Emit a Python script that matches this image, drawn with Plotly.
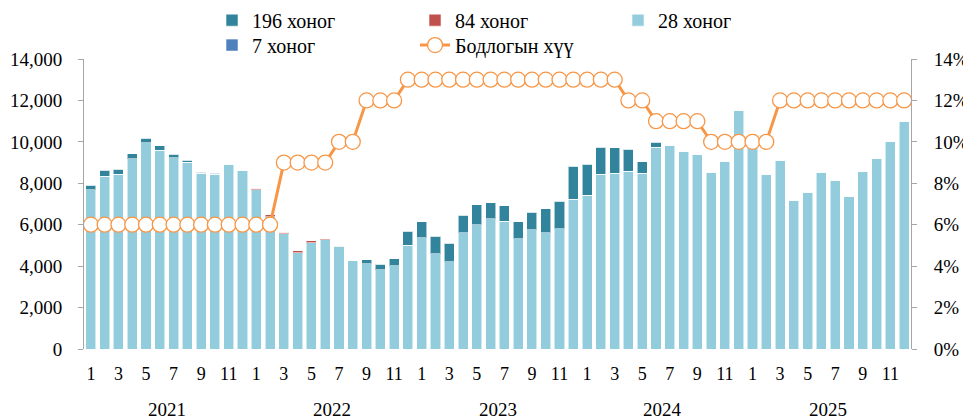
import plotly.graph_objects as go

# ---- data ----
years = ["2021", "2022", "2023", "2024", "2025"]
months = list(range(1, 13))

r28 = [7677, 8351, 8448, 9186, 9957, 9604, 9234, 9026, 8496, 8432, 8930, 8624,
       7677, 6375, 5556, 4655, 5137, 5267, 4930, 4272, 4109, 3820, 4013, 5009,
       5378, 4608, 4206, 5604, 6005, 6278, 6165, 5314, 5748, 5604, 5796, 7225,
       7434, 8429, 8478, 8590, 8478, 9746, 9826, 9553, 9377, 8542, 9072, 11529,
       9900, 8430, 9120, 7177, 7563, 8526, 8141, 7386, 8590, 9184, 10019, 11000]
r84 = [0, 0, 0, 0, 0, 0, 0, 0, 0, 0, 0, 0,
       80, 100, 80, 80, 80, 50, 20, 0, 0, 0, 0, 0,
       0, 0, 0, 0, 0, 0, 0, 0, 0, 0, 0, 0,
       0, 0, 0, 0, 0, 0, 0, 0, 0, 0, 0, 0,
       0, 0, 0, 0, 0, 0, 0, 0, 0, 0, 0, 0]
r196 = [225, 290, 225, 240, 225, 210, 177, 96, 48, 64, 0, 0,
        0, 0, 0, 0, 0, 0, 0, 0, 190, 270, 340, 674,
        755, 835, 900, 851, 964, 787, 755, 819, 851, 1155, 1349, 1590,
        1477, 1317, 1236, 1043, 555, 225, 0, 0, 0, 0, 0, 0,
        0, 0, 0, 0, 0, 0, 0, 0, 0, 0, 0, 0]
r7 = [0] * 60
policy = [6, 6, 6, 6, 6, 6, 6, 6, 6, 6, 6, 6,
          6, 6, 9, 9, 9, 9, 10, 10, 12, 12, 12, 13,
          13, 13, 13, 13, 13, 13, 13, 13, 13, 13, 13, 13,
          13, 13, 13, 12, 12, 11, 11, 11, 11, 10, 10, 10,
          10, 10, 12, 12, 12, 12, 12, 12, 12, 12, 12, 12]

x = list(range(len(r28)))
tickvals = [i for i in x if i % 2 == 0]
ticktext = [str(months[i % 12]) for i in tickvals]

FONT = "Liberation Serif"
C28, C84, C196, C7, CL = "#93CDDD", "#C0504D", "#31849B", "#4F81BD", "#F79646"

fig = go.Figure()
bar_line = dict(color="rgba(255,255,255,0.55)", width=1)
fig.add_trace(go.Bar(x=x, y=r28, name="28 хоног", marker=dict(color=C28, line=bar_line),
                     legend="legend", legendrank=3))
fig.add_trace(go.Bar(x=x, y=r84, name="84 хоног", marker=dict(color=C84, line=bar_line),
                     legend="legend", legendrank=2))
fig.add_trace(go.Bar(x=x, y=r196, name="196 хоног", marker=dict(color=C196, line=bar_line),
                     legend="legend", legendrank=1))
fig.add_trace(go.Bar(x=x, y=r7, name="7 хоног", marker=dict(color=C7, line=bar_line),
                     legend="legend2", legendrank=1))
fig.add_trace(go.Scatter(x=x, y=policy, name="Бодлогын хүү", yaxis="y2", mode="lines+markers",
                         line=dict(color=CL, width=3),
                         marker=dict(size=15, color="white", line=dict(color=CL, width=1.3)),
                         legend="legend2", legendrank=2))

annotations = []
for k, yr in enumerate(years):
    annotations.append(dict(x=12 * k + 5.5, y=-0.253, xref="x", yref="paper", text=yr,
                            showarrow=False, font=dict(family=FONT, size=19, color="black")))

legend_common = dict(orientation="h", xref="paper", yref="paper", xanchor="left",
                     yanchor="middle", traceorder="normal", entrywidth=158, entrywidthmode="pixels",
                     font=dict(family=FONT, size=20, color="black"), bgcolor="rgba(0,0,0,0)",
                     itemwidth=30)

fig.update_layout(
    width=963, height=412,
    margin=dict(l=76, r=60, t=51, b=70.5, autoexpand=False),
    paper_bgcolor="white", plot_bgcolor="white",
    barmode="stack", bargap=0.27,
    font=dict(family=FONT, size=18, color="black"),
    legend=dict(x=0.1548, y=1.134, **legend_common),
    legend2=dict(x=0.1548, y=1.048, **legend_common),
    xaxis=dict(tickmode="array", tickvals=tickvals, ticktext=ticktext,
               range=[-0.5, 59.5], showgrid=False, showline=False, ticks="",
               tickfont=dict(family=FONT, size=18), ticklabelstandoff=12),
    yaxis=dict(range=[0, 14000], dtick=2000, tickformat=",", showgrid=False,
               showline=True, linecolor="#A6A6A6", linewidth=1, ticks="outside",
               ticklen=5, tickcolor="#A6A6A6", tickfont=dict(family=FONT, size=19),
               ticklabelstandoff=12, zeroline=False),
    yaxis2=dict(range=[0, 14], dtick=2, ticksuffix="%", overlaying="y", side="right",
                showgrid=False, showline=True, linecolor="#A6A6A6", linewidth=1,
                ticks="outside", ticklen=5, tickcolor="#A6A6A6",
                tickfont=dict(family=FONT, size=19), ticklabelstandoff=13, zeroline=False),
    annotations=annotations,
)

fig.write_html("out.html")
